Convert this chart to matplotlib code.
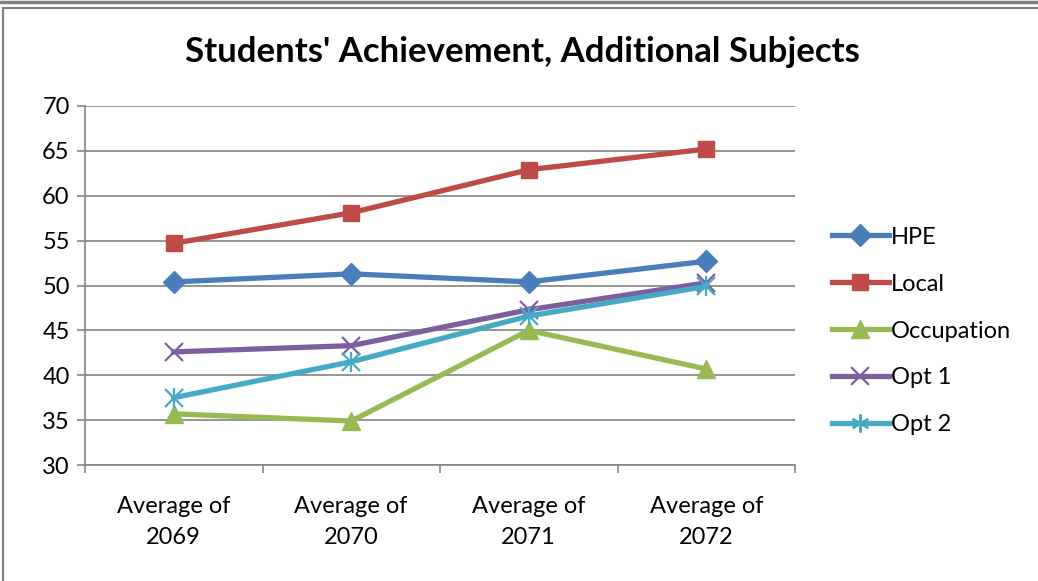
import matplotlib.pyplot as plt
from matplotlib.patches import Rectangle
from matplotlib.lines import Line2D

plt.rcParams['font.family'] = ['Lato', 'DejaVu Sans']

# donnees
categories = ['Average of\n2069', 'Average of\n2070', 'Average of\n2071', 'Average of\n2072']
hpe = [50.4, 51.3, 50.4, 52.7]
local = [54.7, 58.1, 62.9, 65.2]
occupation = [35.7, 34.9, 45.0, 40.7]
opt1 = [42.6, 43.3, 47.3, 50.3]
opt2 = [37.5, 41.5, 46.6, 49.9]

series = [
    ('HPE', hpe, '#4a7ebb', 'D', 11),
    ('Local', local, '#be4b48', 's', 12),
    ('Occupation', occupation, '#98b954', '^', 13),
    ('Opt 1', opt1, '#7d5fa0', 'x', 13),
    ('Opt 2', opt2, '#46aac5', '*', 13),
]

fig = plt.figure(figsize=(10.38, 5.81), dpi=100)
ax = fig.add_axes([85 / 1038, 1 - 465 / 581, 710 / 1038, 359 / 581])

x = list(range(len(categories)))
for name, vals, col, mk, ms in series:
    if mk == '*':
        # asterisque facon Excel : croix + barre verticale
        ax.plot(x, vals, color=col, lw=3.8, marker='x', ms=ms, mew=1.6, label=name, zorder=3)
        ax.plot(x, vals, color=col, lw=0, marker='|', ms=ms + 2, mew=1.6, zorder=3)
    elif mk == 'x':
        ax.plot(x, vals, color=col, lw=3.8, marker='x', ms=ms, mew=1.6, label=name, zorder=3)
    else:
        ax.plot(x, vals, color=col, lw=3.8, marker=mk, ms=ms, mec=col, label=name, zorder=3)

ax.set_xlim(-0.5, 3.5)
ax.set_ylim(30, 70)
ax.set_yticks(range(30, 71, 5))
ax.set_xticks(x)
ax.set_xticklabels(categories, fontsize=17, linespacing=1.6)
ax.tick_params(axis='x', length=0, pad=22)
ax.set_xticks([-0.5, 0.5, 1.5, 2.5, 3.5], minor=True)
ax.tick_params(axis='x', which='minor', length=6, color='#868686', width=1.2)
ax.tick_params(axis='y', labelsize=17, length=6, color='#868686', width=1.2, pad=5)
ax.grid(axis='y', color='#8c8c8c', lw=1.3)
ax.set_axisbelow(True)
for s in ['top', 'right']:
    ax.spines[s].set_visible(False)
for s in ['left', 'bottom']:
    ax.spines[s].set_color('#868686')
    ax.spines[s].set_linewidth(1.2)

# legende
handles = []
for name, vals, col, mk, ms in series:
    if mk == '*':
        handles.append(Line2D([], [], color=col, lw=3.8, marker=(6, 2, 0), ms=ms, mew=1.6))
    elif mk == 'x':
        handles.append(Line2D([], [], color=col, lw=3.8, marker='x', ms=ms, mew=1.6))
    else:
        handles.append(Line2D([], [], color=col, lw=3.8, marker=mk, ms=ms, mec=col))
fig.legend(handles, [s[0] for s in series], loc='center left', bbox_to_anchor=(832 / 1038, 1 - 331 / 581),
           frameon=False, fontsize=17, handlelength=2.4, handletextpad=0.1, labelspacing=1.1,
           borderaxespad=0, borderpad=0)

fig.text(522 / 1038, 1 - 52 / 581, "Students' Achievement, Additional Subjects",
         ha='center', va='center', fontsize=25, fontweight='bold')

# cadre
fig.add_artist(Rectangle((3 / 1038, -0.05), 1.1, 1 - 8 / 581 + 0.05, transform=fig.transFigure,
                         fill=False, ec='#7f7f7f', lw=1.5))
fig.add_artist(Line2D([0, 1], [1 - 1.5 / 581] * 2, transform=fig.transFigure, color='#7f7f7f', lw=2.5))

fig.savefig('out.png', dpi=100)
